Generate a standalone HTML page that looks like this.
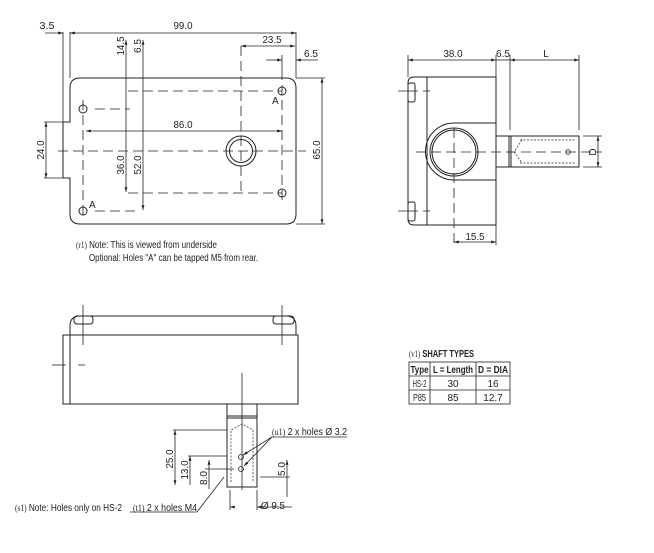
<!DOCTYPE html>
<html><head><meta charset="utf-8"><style>
html,body{margin:0;padding:0;background:#fff;}
svg{display:block;}
text{font-family:"Liberation Sans",sans-serif;font-size:10px;fill:#222;}
.s{font-family:"Liberation Serif",serif;font-size:9px;}
</style></head><body>
<svg width="654" height="553" viewBox="0 0 654 553" xmlns="http://www.w3.org/2000/svg">
<defs>
<marker id="a" viewBox="0 0 10 10" refX="10" refY="5" markerWidth="6" markerHeight="6" orient="auto-start-reverse"><path d="M0,2 L10,5 L0,8z" fill="#222"/></marker>
</defs>
<g stroke="#222" stroke-width="1" fill="none">
<!-- FRONT VIEW -->
<path d="M80,78 H286 Q296,78 296,88 V214 Q296,224 286,224 H80 Q70,224 70,214 V178 H63 V122 H70 V88 Q70,78 80,78 Z"/>
<line x1="63" y1="32" x2="63" y2="122" stroke-width="0.8"/>
<line x1="70" y1="32" x2="70" y2="78" stroke-width="0.8"/>
<line x1="296" y1="32" x2="296" y2="78" stroke-width="0.8"/>
<line x1="296" y1="78" x2="325" y2="78" stroke-width="0.8"/>
<line x1="296" y1="224" x2="325" y2="224" stroke-width="0.8"/>
<line x1="44" y1="122" x2="63" y2="122" stroke-width="0.8"/>
<line x1="44" y1="178" x2="63" y2="178" stroke-width="0.8"/>
<line x1="45" y1="33" x2="63" y2="33" marker-end="url(#a)" stroke-width="0.8"/>
<line x1="70" y1="33" x2="296" y2="33" marker-start="url(#a)" marker-end="url(#a)" stroke-width="0.8"/>
<line x1="241" y1="46" x2="295" y2="46" marker-start="url(#a)" marker-end="url(#a)" stroke-width="0.8"/>
<line x1="266" y1="60" x2="282" y2="60" marker-end="url(#a)" stroke-width="0.8"/>
<line x1="318" y1="60" x2="296" y2="60" marker-end="url(#a)" stroke-width="0.8"/>
<line x1="282" y1="55" x2="282" y2="70" stroke-width="0.8"/>
<line x1="126" y1="40" x2="126" y2="192" marker-start="url(#a)" marker-end="url(#a)" stroke-width="0.8"/>
<line x1="143" y1="40" x2="143" y2="210" marker-start="url(#a)" marker-end="url(#a)" stroke-width="0.8"/>
<line x1="86" y1="131" x2="282" y2="131" marker-start="url(#a)" marker-end="url(#a)" stroke-width="0.8"/>
<line x1="46" y1="122" x2="46" y2="178" marker-start="url(#a)" marker-end="url(#a)" stroke-width="0.8"/>
<line x1="322" y1="78" x2="322" y2="224" marker-start="url(#a)" marker-end="url(#a)" stroke-width="0.8"/>
<g stroke-dasharray="10,5" stroke-width="0.8">
<line x1="58" y1="151" x2="306" y2="151"/>
<line x1="128" y1="91" x2="282" y2="91"/>
<line x1="128" y1="193" x2="282" y2="193"/>
<line x1="95" y1="109" x2="130" y2="109"/>
<line x1="95" y1="211" x2="140" y2="211"/>
<line x1="83" y1="100" x2="83" y2="215"/>
<line x1="282" y1="70" x2="282" y2="200"/>
<line x1="241" y1="46" x2="241" y2="192"/>
</g>
<circle cx="282" cy="91" r="4"/><circle cx="282" cy="193" r="4"/>
<circle cx="83" cy="109" r="4"/><circle cx="83" cy="211" r="4"/>
<circle cx="241" cy="151" r="15"/><circle cx="241" cy="151" r="11.5"/>
<!-- SIDE VIEW -->
<path d="M414,77 H496 V225 H414 Q408,225 408,219 V83 Q408,77 414,77 Z"/>
<line x1="427" y1="77" x2="427" y2="225"/>
<rect x="408" y="83" width="7" height="19" rx="2"/>
<rect x="408" y="202" width="7" height="19" rx="2"/>
<path d="M496,123 H454 A28.5,28.5 0 0 0 454,180 H496"/>
<circle cx="454" cy="152" r="24"/><circle cx="454" cy="152" r="22"/>
<rect x="496" y="136" width="83" height="31"/>
<line x1="509" y1="136" x2="509" y2="167"/><line x1="511" y1="136" x2="511" y2="167"/>
<g stroke-dasharray="2,1.5" stroke-width="0.7">
<line x1="520" y1="140" x2="576" y2="140"/><line x1="520" y1="163" x2="576" y2="163"/>
<path d="M522,140 L514,152 L522,163"/>
</g>
<circle cx="568" cy="152" r="2.3" stroke-width="0.8"/>
<line x1="416" y1="152" x2="602" y2="152" stroke-dasharray="10,5" stroke-width="0.8"/>
<line x1="454" y1="128" x2="454" y2="245" stroke-dasharray="10,5" stroke-width="0.8"/>
<line x1="398" y1="91" x2="418" y2="91" stroke-width="0.8"/><line x1="423" y1="91" x2="430" y2="91" stroke-width="0.8"/>
<line x1="398" y1="211" x2="418" y2="211" stroke-width="0.8"/><line x1="423" y1="211" x2="430" y2="211" stroke-width="0.8"/>
<line x1="408" y1="55" x2="408" y2="77" stroke-width="0.8"/>
<line x1="496" y1="55" x2="496" y2="77" stroke-width="0.8"/>
<line x1="510" y1="55" x2="510" y2="130" stroke-width="0.8"/>
<line x1="579" y1="55" x2="579" y2="130" stroke-width="0.8"/>
<line x1="408" y1="60" x2="496" y2="60" marker-start="url(#a)" marker-end="url(#a)" stroke-width="0.8"/>
<line x1="496" y1="60" x2="510" y2="60" stroke-width="0.8"/>
<line x1="510" y1="60" x2="579" y2="60" marker-start="url(#a)" marker-end="url(#a)" stroke-width="0.8"/>
<line x1="583" y1="136" x2="602" y2="136" stroke-width="0.8"/><line x1="583" y1="167" x2="602" y2="167" stroke-width="0.8"/>
<line x1="598" y1="136" x2="598" y2="167" marker-start="url(#a)" marker-end="url(#a)" stroke-width="0.8"/>
<line x1="496" y1="225" x2="496" y2="245" stroke-width="0.8"/>
<line x1="454" y1="242" x2="496" y2="242" marker-start="url(#a)" marker-end="url(#a)" stroke-width="0.8"/>
<!-- BOTTOM VIEW -->
<path d="M70,335 V326 Q70,316 80,316 H286 Q296,316 296,326 V335"/>
<rect x="63" y="335" width="235" height="69"/>
<line x1="70" y1="335" x2="70" y2="404"/>
<rect x="74" y="316" width="19" height="8" rx="3"/>
<rect x="273" y="316" width="21" height="8" rx="3"/>
<line x1="83" y1="305" x2="83" y2="345" stroke-width="0.8"/>
<line x1="282" y1="305" x2="282" y2="345" stroke-width="0.8"/>
<line x1="52" y1="365" x2="66" y2="365" stroke-width="0.8"/><line x1="78" y1="365" x2="85" y2="365" stroke-width="0.8"/>
<rect x="227" y="404" width="30" height="83"/>
<line x1="227" y1="416" x2="257" y2="416"/><line x1="227" y1="418" x2="257" y2="418"/>
<line x1="242" y1="373" x2="242" y2="490" stroke-width="0.8"/>
<g stroke-dasharray="2,1.5" stroke-width="0.7">
<path d="M231,482 V430 L242,424 L253,430 V482"/>
</g>
<circle cx="241" cy="457" r="2.5" stroke-width="0.8"/><circle cx="241" cy="469" r="2.5" stroke-width="0.8"/>
<g stroke-width="0.8">
<line x1="173" y1="430" x2="227" y2="430"/>
<line x1="175" y1="430" x2="175" y2="485" marker-start="url(#a)" marker-end="url(#a)"/>
<line x1="188" y1="456" x2="227" y2="456"/>
<line x1="190" y1="456" x2="190" y2="485" marker-start="url(#a)"/>
<line x1="205" y1="469" x2="234" y2="469"/>
<line x1="209" y1="460" x2="209" y2="489" marker-start="url(#a)"/>
<line x1="260" y1="477" x2="290" y2="477"/>
<line x1="287" y1="460" x2="287" y2="497" marker-start="url(#a)"/>
<line x1="230" y1="490" x2="230" y2="510"/><line x1="257" y1="490" x2="257" y2="510"/>
<line x1="233" y1="507" x2="230" y2="507" marker-end="url(#a)"/>
<line x1="292" y1="507" x2="257" y2="507" marker-end="url(#a)"/>
<line x1="272" y1="437" x2="347" y2="437"/>
<line x1="272" y1="437" x2="243" y2="455" marker-end="url(#a)"/>
<line x1="272" y1="437" x2="244" y2="466" marker-end="url(#a)"/>
<line x1="130" y1="512" x2="197" y2="512"/>
<line x1="197" y1="512" x2="224" y2="477"/>
</g>
<!-- TABLE -->
<rect x="409" y="362" width="101" height="42" stroke-width="0.8"/>
<line x1="409" y1="376" x2="510" y2="376" stroke-width="0.8"/>
<line x1="409" y1="390" x2="510" y2="390" stroke-width="0.8"/>
<line x1="430" y1="362" x2="430" y2="404" stroke-width="0.8"/>
<line x1="476" y1="362" x2="476" y2="404" stroke-width="0.8"/>
</g>
<!-- texts -->
<text x="47" y="29" text-anchor="middle" textLength="15" lengthAdjust="spacingAndGlyphs">3.5</text>
<text x="183" y="29" text-anchor="middle" textLength="19" lengthAdjust="spacingAndGlyphs">99.0</text>
<text x="272" y="43" text-anchor="middle" textLength="19" lengthAdjust="spacingAndGlyphs">23.5</text>
<text x="311" y="57" text-anchor="middle" textLength="14" lengthAdjust="spacingAndGlyphs">6.5</text>
<text x="183" y="128" text-anchor="middle" textLength="19" lengthAdjust="spacingAndGlyphs">86.0</text>
<text x="89" y="208" font-size="9">A</text>
<text x="272" y="104" font-size="9">A</text>
<text transform="translate(124,46) rotate(-90)" text-anchor="middle" textLength="19" lengthAdjust="spacingAndGlyphs">14.5</text>
<text transform="translate(141,46) rotate(-90)" text-anchor="middle" textLength="14" lengthAdjust="spacingAndGlyphs">6.5</text>
<text transform="translate(124,165) rotate(-90)" text-anchor="middle" textLength="19" lengthAdjust="spacingAndGlyphs">36.0</text>
<text transform="translate(141,165) rotate(-90)" text-anchor="middle" textLength="19" lengthAdjust="spacingAndGlyphs">52.0</text>
<text transform="translate(44,150) rotate(-90)" text-anchor="middle" textLength="19" lengthAdjust="spacingAndGlyphs">24.0</text>
<text transform="translate(320,150) rotate(-90)" text-anchor="middle" textLength="19" lengthAdjust="spacingAndGlyphs">65.0</text>
<text x="76" y="248" textLength="141" lengthAdjust="spacingAndGlyphs"><tspan class="s">(r1)</tspan> Note: This is viewed from underside</text>
<text x="89" y="261" textLength="169" lengthAdjust="spacingAndGlyphs">Optional: Holes "A" can be tapped M5 from rear.</text>
<text x="453" y="57" text-anchor="middle" textLength="19" lengthAdjust="spacingAndGlyphs">38.0</text>
<text x="503" y="57" text-anchor="middle" textLength="14" lengthAdjust="spacingAndGlyphs">6.5</text>
<text x="546" y="57" text-anchor="middle">L</text>
<text transform="translate(596,152) rotate(-90)" text-anchor="middle">D</text>
<text x="475" y="240" text-anchor="middle" textLength="19" lengthAdjust="spacingAndGlyphs">15.5</text>
<text transform="translate(173,459) rotate(-90)" text-anchor="middle" textLength="19" lengthAdjust="spacingAndGlyphs">25.0</text>
<text transform="translate(188,470) rotate(-90)" text-anchor="middle" textLength="19" lengthAdjust="spacingAndGlyphs">13.0</text>
<text transform="translate(207,478) rotate(-90)" text-anchor="middle" textLength="14" lengthAdjust="spacingAndGlyphs">8.0</text>
<text transform="translate(285,469) rotate(-90)" text-anchor="middle" textLength="14" lengthAdjust="spacingAndGlyphs">5.0</text>
<text x="261" y="509" textLength="24" lengthAdjust="spacingAndGlyphs">Ø 9.5</text>
<text x="272" y="435" textLength="75" lengthAdjust="spacingAndGlyphs"><tspan class="s">(u1)</tspan> 2 x holes Ø 3.2</text>
<text x="15" y="511" textLength="107" lengthAdjust="spacingAndGlyphs"><tspan class="s">(s1)</tspan> Note: Holes only on HS-2</text>
<text x="133" y="511" textLength="64" lengthAdjust="spacingAndGlyphs"><tspan class="s">(t1)</tspan> 2 x holes M4</text>
<text x="409" y="357" font-size="9" textLength="65" lengthAdjust="spacingAndGlyphs"><tspan class="s">(v1)</tspan> <tspan font-weight="bold">SHAFT TYPES</tspan></text>
<text x="419.5" y="373" text-anchor="middle" font-weight="bold" font-size="8.5" textLength="18" lengthAdjust="spacingAndGlyphs">Type</text>
<text x="453" y="373" text-anchor="middle" font-weight="bold" font-size="8.5" textLength="40" lengthAdjust="spacingAndGlyphs">L = Length</text>
<text x="493" y="373" text-anchor="middle" font-weight="bold" font-size="8.5" textLength="30" lengthAdjust="spacingAndGlyphs">D = DIA</text>
<text x="419.5" y="387" text-anchor="middle" font-size="8.5" textLength="14" lengthAdjust="spacingAndGlyphs">HS-2</text>
<text x="453" y="387" text-anchor="middle" font-size="8.5">30</text>
<text x="493" y="387" text-anchor="middle" font-size="8.5">16</text>
<text x="419.5" y="401" text-anchor="middle" font-size="8.5" textLength="13" lengthAdjust="spacingAndGlyphs">P85</text>
<text x="453" y="401" text-anchor="middle" font-size="8.5">85</text>
<text x="493" y="401" text-anchor="middle" font-size="8.5">12.7</text>
</svg>
</body></html>
